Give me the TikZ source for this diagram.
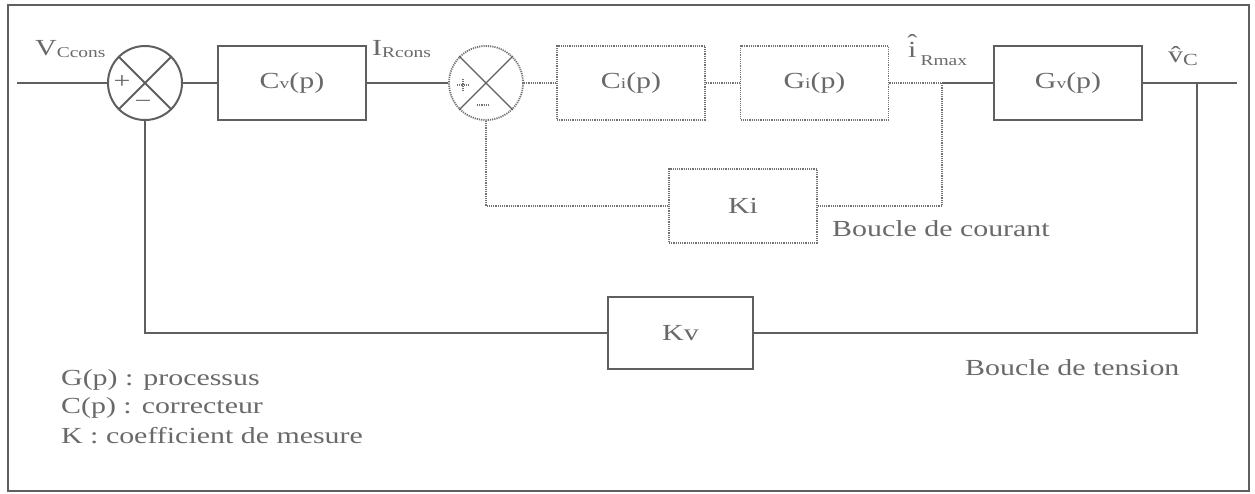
\documentclass[tikz,border=0pt]{standalone}
\usepackage{fontspec}
\setmainfont[FakeStretch=1.3]{Liberation Serif}
\definecolor{ln}{RGB}{95,95,95}
\definecolor{tx}{RGB}{105,105,105}
\definecolor{dt}{RGB}{115,115,115}
\newcommand\smsub[1]{{\fontsize{15}{15}\selectfont #1}}
\newcommand\lowsub[2]{\raisebox{-#1}{\fontsize{15}{15}\selectfont #2}}
\begin{document}
\begin{tikzpicture}[x=1pt,y=-1pt,
  every node/.style={text=tx, font=\fontsize{23}{29}\selectfont},
  blk/.style={draw=ln, line width=2pt, minimum width=148pt, minimum height=74pt, inner sep=0pt},
  dblk/.style={blk, draw=dt, line width=1.8pt, dash pattern=on 1.2pt off 1pt},
  sumc/.style={circle, draw=ln, line width=2pt, minimum size=74pt, inner sep=0pt},
  dsum/.style={sumc, draw=dt, line width=1.8pt, dash pattern=on 1.2pt off 1pt},
  lnk/.style={draw=ln, line width=2.2pt},
  dlnk/.style={draw=dt, line width=1.8pt, dash pattern=on 1.2pt off 1pt},
  lbl/.style={anchor=base west, inner sep=0pt}
]
\useasboundingbox (0,0) rectangle (1255,493);
\draw[draw=ln, line width=1.8pt] (8,5) rectangle (1249,491);

% main chain
\coordinate (in) at (17,83);
\node[sumc] (s1) at (145,83) {};
\node[blk] (cv) at (292,83) {C\smsub{v}(p)};
\node[dsum] (s2) at (486,83) {};
\node[dblk] (ci) at (631,83) {C\smsub{i}(p)};
\node[dblk] (gi) at (814.5,83) {G\smsub{i}(p)};
\coordinate (j1) at (942,83);
\node[blk] (gv) at (1068,83) {G\smsub{v}(p)};
\coordinate (vj) at (1197,83);
\coordinate (out) at (1237,83);
\node[dblk] (ki) at (743,206) {Ki};
\node[blk, minimum width=145pt, minimum height=72pt] (kv) at (680.5,333) {Kv};

% summing junction details
\draw[lnk, line width=1.8pt] (s1.north west) -- (s1.south east) (s1.north east) -- (s1.south west);
\draw[draw=ln, line width=1.4pt] (s2.north west) -- (s2.south east) (s2.north east) -- (s2.south west);
\node[inner sep=0pt] (p1) at (122,82) {+};
\node[inner sep=0pt] (m1) at (143,104) {\char"2212};
\draw[dlnk, line width=1.4pt] (457,85) -- (469,85) (463,79) -- (463,91);
\draw[dlnk, line width=1.4pt] (477,105) -- (490,105);

% connectors
\draw[lnk] (in) -- (s1.west);
\draw[lnk] (s1.east) -- (cv.west);
\draw[lnk] (cv.east) -- (s2.west);
\draw[dlnk] (s2.east) -- (ci.west);
\draw[dlnk] (ci.east) -- (gi.west);
\draw[dlnk] (gi.east) -- (j1);
\draw[lnk] (j1) -- (gv.west);
\draw[lnk] (gv.east) -- (out);
\draw[dlnk] (j1) |- (ki.east);
\draw[dlnk] (ki.west) -| (s2.south);
\draw[lnk] (vj) |- (kv.east);
\draw[lnk] (kv.west) -| (s1.south);

% signal labels
\node[lbl] (lvc) at (35,55) {V\lowsub{2pt}{Ccons}};
\node[lbl] (lir) at (372,55) {I\lowsub{2pt}{Rcons}};
\node[lbl] (lim) at (908,57) {\ooalign{i\cr\hidewidth\raisebox{7pt}{\char"02C6}\hidewidth\cr}\kern4pt\lowsub{8pt}{Rmax}};
\node[lbl] (lvo) at (1168,62) {\^{v}\lowsub{3pt}{\fontsize{17}{17}\selectfont C}};

% loop labels and legend
\node[lbl] (bc) at (832,236) {Boucle de courant};
\node[lbl] (bt) at (965,375) {Boucle de tension};
\node[lbl] (lg1) at (61,385) {G(p) : processus};
\node[lbl] (lg2) at (61,413) {C(p) : correcteur};
\node[lbl] (lg3) at (61,443) {K : coefficient de mesure};
\end{tikzpicture}
\end{document}
